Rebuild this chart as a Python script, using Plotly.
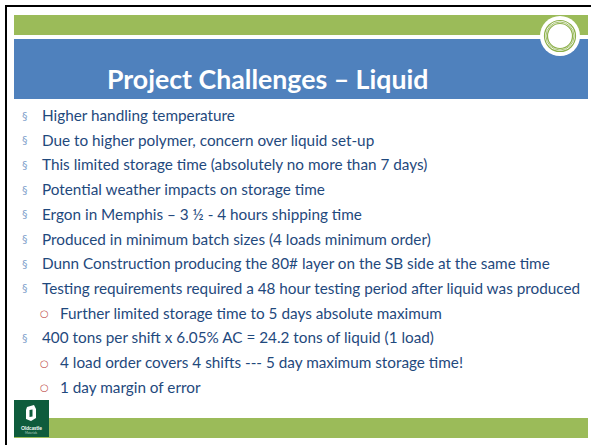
import plotly.graph_objects as go

W, H = 591, 445
BAR_END = 588

title = "Project Challenges – Liquid"
bullets = [
    (0, "Higher handling temperature"),
    (0, "Due to higher polymer, concern over liquid set-up"),
    (0, "This limited storage time (absolutely no more than 7 days)"),
    (0, "Potential weather impacts on storage time"),
    (0, "Ergon in Memphis – 3 ½ - 4 hours shipping time"),
    (0, "Produced in minimum batch sizes (4 loads minimum order)"),
    (0, "Dunn Construction producing the 80# layer on the SB side at the same time"),
    (0, "Testing requirements required a 48 hour testing period after liquid was produced"),
    (1, "Further limited storage time to 5 days absolute maximum"),
    (0, "400 tons per shift x 6.05% AC = 24.2 tons of liquid (1 load)"),
    (1, "4 load order covers 4 shifts --- 5 day maximum storage time!"),
    (1, "1 day margin of error"),
]

GREEN = "#9BBB59"
BLUE = "#4F81BD"
TEXT = "#1F497D"
FONT = "Lato"

fig = go.Figure()
shapes = []
ann = []

# header bars
shapes.append(dict(type="rect", x0=14, x1=BAR_END, y0=15, y1=35, fillcolor=GREEN, line=dict(width=0)))
shapes.append(dict(type="rect", x0=14, x1=BAR_END, y0=39, y1=99, fillcolor=BLUE, line=dict(width=0)))
# footer bar
shapes.append(dict(type="rect", x0=14, x1=BAR_END, y0=418, y1=438, fillcolor=GREEN, line=dict(width=0)))
# border lines (top and left only)
shapes.append(dict(type="rect", x0=5, x1=W, y0=5, y1=7, fillcolor="black", line=dict(width=0)))
shapes.append(dict(type="rect", x0=5, x1=7, y0=5, y1=H, fillcolor="black", line=dict(width=0)))
# circle ornament
cx, cy = 560, 36
shapes.append(dict(type="circle", x0=cx-20, x1=cx+20, y0=cy-20, y1=cy+20, fillcolor="white", line=dict(width=0)))
for r, w in [(15.5, 1.2), (14, 0.8), (12.5, 1.2)]:
    shapes.append(dict(type="circle", x0=cx-r, x1=cx+r, y0=cy-r, y1=cy+r, line=dict(color="#8DB04A", width=w)))
# logo
shapes.append(dict(type="rect", x0=14, x1=49, y0=400, y1=437, fillcolor="#0E5C3C", line=dict(width=0)))
shapes.append(dict(type="path", path="M 27 407 L 34 405 L 36 409 L 36 418 L 31 421 L 26 419 L 26 410 Z",
                   fillcolor="white", line=dict(width=0)))
shapes.append(dict(type="path", path="M 29.5 410 L 32.5 409.5 L 32.5 416.5 L 29.5 417 Z",
                   fillcolor="#0E5C3C", line=dict(width=0)))
ann.append(dict(x=31.5, y=427.5, text="<b>Oldcastle</b>", showarrow=False, xanchor="center", yanchor="middle",
                font=dict(family=FONT, size=5, color="white")))
ann.append(dict(x=31.5, y=432.5, text="Materials", showarrow=False, xanchor="center", yanchor="middle",
                font=dict(family=FONT, size=3, color="#BBD3C5")))

# title
ann.append(dict(x=267, y=79, text="<b>" + title + "</b>", showarrow=False, xanchor="center", yanchor="middle",
                font=dict(family=FONT, size=26.7, color="white")))

y0, dy = 115, 24.7
for i, (lvl, txt) in enumerate(bullets):
    y = y0 + dy * i
    if lvl == 0:
        ann.append(dict(x=25, y=y + 1, text="§", showarrow=False, xanchor="center", yanchor="middle",
                        font=dict(family="DejaVu Sans", size=11, color="#7F9FCB")))
        ann.append(dict(x=39.5, y=y, text=txt, showarrow=False, xanchor="left", yanchor="middle",
                        font=dict(family=FONT, size=15.3, color=TEXT)))
    else:
        ann.append(dict(x=44, y=y + 1, text="○", showarrow=False, xanchor="center", yanchor="middle",
                        font=dict(family="DejaVu Sans", size=10, color="#C0504D")))
        ann.append(dict(x=57.5, y=y, text=txt, showarrow=False, xanchor="left", yanchor="middle",
                        font=dict(family=FONT, size=15.3, color=TEXT)))

fig.update_layout(
    width=W, height=H, margin=dict(l=0, r=0, t=0, b=0, pad=0),
    paper_bgcolor="white", plot_bgcolor="white",
    xaxis=dict(range=[0, W], visible=False, fixedrange=True),
    yaxis=dict(range=[H, 0], visible=False, fixedrange=True),
    shapes=shapes, annotations=ann, showlegend=False,
)
fig.write_html(
    "out.html",
    config={"displayModeBar": False},
    post_script=(
        "document.documentElement.style.overflow='hidden';"
        "document.body.style.margin='0';document.body.style.overflow='hidden';"
    ),
)
